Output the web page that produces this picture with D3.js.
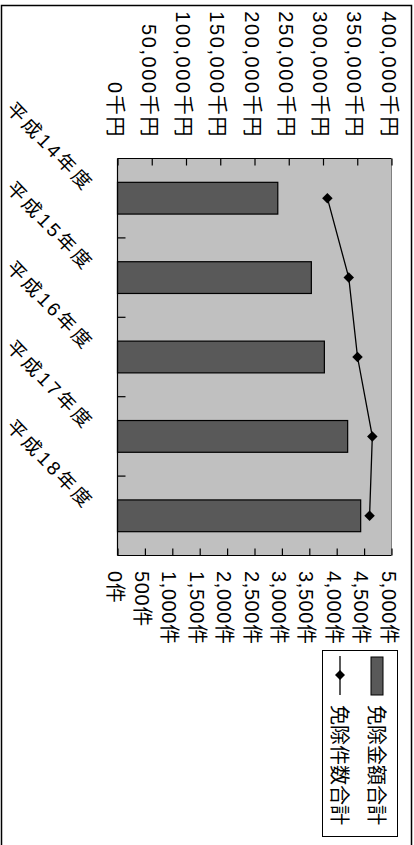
<!DOCTYPE html>
<html><head><meta charset="utf-8">
<script src="https://cdn.jsdelivr.net/npm/d3@7"></script>
<style>html,body{margin:0;padding:0;background:#fff;}svg{display:block;}</style>
</head><body>
<svg id="c" width="414" height="845"></svg>
<script>
const categories = ["平成14年度","平成15年度","平成16年度","平成17年度","平成18年度"];
const amounts = [234000, 283000, 302000, 336000, 355000];   // 免除金額合計 (千円)
const counts = [3830, 4220, 4380, 4650, 4600];              // 免除件数合計 (件)
const amountTicks = [0,50000,100000,150000,200000,250000,300000,350000,400000];
const countTicks = [0,500,1000,1500,2000,2500,3000,3500,4000,4500,5000];
const seriesNames = ["免除金額合計","免除件数合計"];

const svg = d3.select("#c");
const font = "Arial, 'Liberation Sans', 'Noto Sans CJK JP', sans-serif";
const L = 117.5, R = 391.5, T = 158.5, B = 555.5;

// outer frame
svg.append("rect").attr("x",1.5).attr("y",5.5).attr("width",410).attr("height",850)
  .attr("fill","#fff").attr("stroke","#000").attr("stroke-width",1.5);

const xA = d3.scaleLinear().domain([0,400000]).range([L,R]);
const xC = d3.scaleLinear().domain([0,5000]).range([L,R]);
const y = d3.scaleBand().domain(categories).range([T,B]).paddingInner(0.6).paddingOuter(0.3);
const yB = d3.scaleBand().domain(categories).range([T,B]);

// plot area
svg.append("rect").attr("x",L).attr("y",T).attr("width",R-L).attr("height",B-T)
  .attr("fill","#c0c0c0").attr("stroke","none");

// bars
svg.append("g").selectAll("rect").data(categories).join("rect")
  .attr("x", L).attr("y", d=>y(d)).attr("width", (d,i)=>xA(amounts[i])-L).attr("height", y.bandwidth())
  .attr("fill","#595959").attr("stroke","#000").attr("stroke-width",1.2);

// borders of plot
const frame = svg.append("g").attr("stroke","#000").attr("stroke-width",1.2);
frame.append("line").attr("x1",L).attr("x2",L).attr("y1",T).attr("y2",B);
frame.append("line").attr("x1",L).attr("x2",R).attr("y1",T).attr("y2",T);
frame.append("line").attr("x1",L).attr("x2",R).attr("y1",B).attr("y2",B);
svg.append("line").attr("x1",R).attr("x2",R).attr("y1",T).attr("y2",B).attr("stroke","#808080").attr("stroke-width",1);

// top axis (amounts)
const topAxis = svg.append("g").attr("transform",`translate(0,${T})`)
  .call(d3.axisBottom(xA).tickValues(amountTicks).tickSize(7).tickFormat(""));
topAxis.select(".domain").remove();
topAxis.selectAll("line").attr("stroke","#000").attr("stroke-width",1.2);
svg.append("g").selectAll("text").data(amountTicks).join("text")
  .attr("transform", d=>`translate(${xA(d)-3},138) rotate(90)`)
  .attr("text-anchor","end").attr("dominant-baseline","central")
  .attr("font-family",font).attr("font-size",20).attr("letter-spacing",1.6).attr("fill","#000")
  .text(d=>d3.format(",")(d)+"千円");

// bottom axis (counts)
const botAxis = svg.append("g").attr("transform",`translate(0,${B})`)
  .call(d3.axisTop(xC).tickValues(countTicks).tickSize(7).tickFormat(""));
botAxis.select(".domain").remove();
botAxis.selectAll("line").attr("stroke","#000").attr("stroke-width",1.2);
svg.append("g").selectAll("text").data(countTicks).join("text")
  .attr("transform", d=>`translate(${xC(d)-3},571) rotate(90)`)
  .attr("text-anchor","start").attr("dominant-baseline","central")
  .attr("font-family",font).attr("font-size",20).attr("letter-spacing",0.6).attr("fill","#000")
  .text(d=>d3.format(",")(d)+"件");

// category ticks (left)
const leftAxis = svg.append("g").attr("transform",`translate(${L},0)`)
  .call(d3.axisRight(yB).tickSize(0).tickFormat(""));
leftAxis.select(".domain").remove();
svg.append("g").selectAll("line").data(categories.slice(1)).join("line")
  .attr("x1",L).attr("x2",L+8).attr("y1",d=>yB(d)).attr("y2",d=>yB(d))
  .attr("stroke","#000").attr("stroke-width",1.2);

// category labels
svg.append("g").selectAll("text").data(categories).join("text")
  .attr("transform", d=>`translate(90,${yB(d)+yB.bandwidth()/2-10}) rotate(46)`)
  .attr("text-anchor","end").attr("dominant-baseline","central")
  .attr("font-family",font).attr("font-size",19).attr("letter-spacing",3).attr("fill","#000")
  .text(d=>d);

// line series
const yc = d => yB(d)+yB.bandwidth()/2;
const line = d3.line().x((d,i)=>xC(counts[i])).y(d=>yc(d));
svg.append("path").datum(categories).attr("d",line).attr("fill","none").attr("stroke","#000").attr("stroke-width",1.3);
svg.append("g").selectAll("path").data(categories).join("path")
  .attr("transform",(d,i)=>`translate(${xC(counts[i])},${yc(d)}) rotate(45)`)
  .attr("d", d3.symbol().type(d3.symbolSquare).size(55)).attr("fill","#000");

// legend
const lg = svg.append("g");
lg.append("rect").attr("x",322.5).attr("y",650.5).attr("width",75).attr("height",186)
  .attr("fill","#fff").attr("stroke","#000").attr("stroke-width",1);
lg.append("rect").attr("x",371).attr("y",657).attr("width",12).attr("height",38)
  .attr("fill","#595959").attr("stroke","#000").attr("stroke-width",1);
lg.append("line").attr("x1",340).attr("x2",340).attr("y1",656).attr("y2",695).attr("stroke","#000").attr("stroke-width",1.3);
lg.append("path").attr("transform","translate(340,675) rotate(45)")
  .attr("d", d3.symbol().type(d3.symbolSquare).size(50)).attr("fill","#000");
lg.selectAll("text").data(seriesNames).join("text")
  .attr("transform",(d,i)=>`translate(${i===0?376:339},705) rotate(90)`)
  .attr("text-anchor","start").attr("dominant-baseline","central")
  .attr("font-family",font).attr("font-size",20).attr("fill","#000")
  .text(d=>d);
</script>
</body></html>
